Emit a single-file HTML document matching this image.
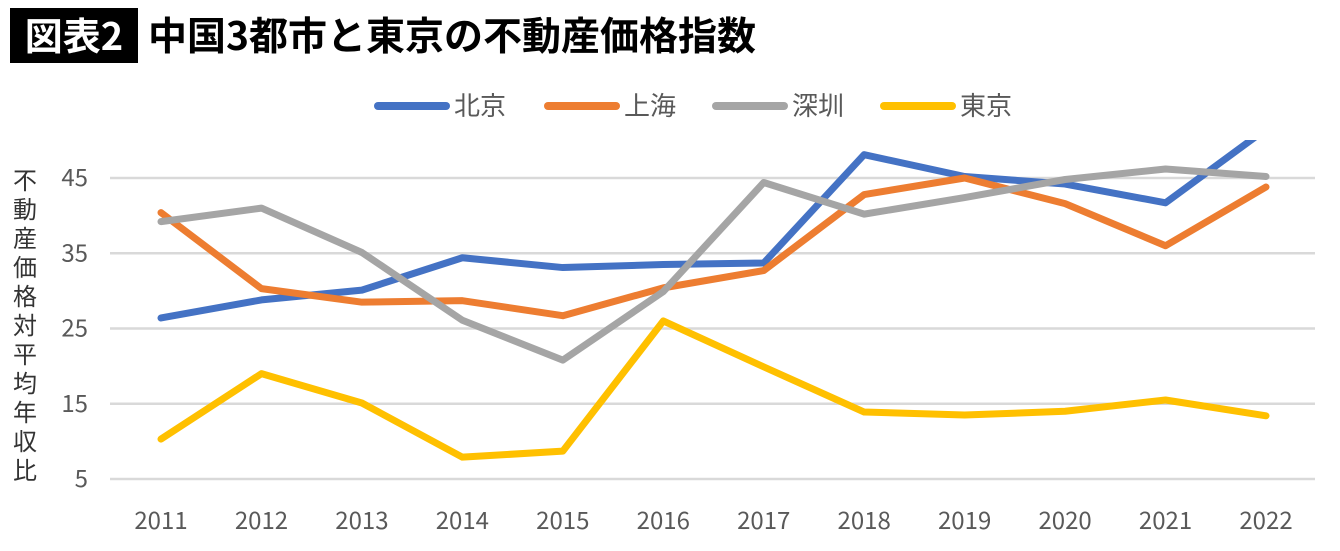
<!DOCTYPE html>
<html><head><meta charset="utf-8"><style>
body{margin:0;background:#fff;width:1340px;height:546px;overflow:hidden;font-family:"Liberation Sans","Noto Sans CJK JP",sans-serif}
</style></head><body>
<svg id="c" width="1340" height="546" xmlns="http://www.w3.org/2000/svg">
<rect x="10" y="8" width="128" height="55" fill="#000"/>
<text x="74" y="50" fill="#fff" font-size="38" font-weight="bold" text-anchor="middle" font-family="Noto Sans CJK JP,sans-serif">図表2</text>
<text x="148" y="50" fill="#000" font-size="39" font-weight="bold" font-family="Noto Sans CJK JP,sans-serif">中国3都市と東京の不動産価格指数</text>
<g id="legend"></g>
<g id="grid"></g>
<g id="lines"></g>
<g id="axes"></g>
<text font-size="24" fill="#333" font-family="Liberation Sans,Noto Sans CJK JP,sans-serif">
<tspan x="13" y="189">不</tspan><tspan x="13" y="218">動</tspan><tspan x="13" y="247">産</tspan><tspan x="13" y="276">価</tspan><tspan x="13" y="305">格</tspan><tspan x="13" y="334">対</tspan><tspan x="13" y="363">平</tspan><tspan x="13" y="392">均</tspan><tspan x="13" y="421">年</tspan><tspan x="13" y="450">収</tspan><tspan x="13" y="479">比</tspan>
</text>
<defs><clipPath id="plot"><rect x="100" y="140" width="1230" height="360"/></clipPath></defs>
</svg>
<script>
const years=["2011","2012","2013","2014","2015","2016","2017","2018","2019","2020","2021","2022"];
const yTicks=[5,15,25,35,45];
const seriesNames=["北京","上海","深圳","東京"];
const seriesColors=["#4472c4","#ed7d31","#a5a5a5","#ffc000"];
const beijing=[26.4,28.8,30.1,34.4,33.1,33.5,33.7,48.1,45.2,44.2,41.7,51.5];
const shanghai=[40.4,30.3,28.5,28.7,26.7,30.4,32.7,42.8,45.0,41.6,36.0,43.8];
const shenzhen=[39.2,41.0,35.1,26.1,20.8,29.9,44.4,40.2,42.4,44.8,46.2,45.2];
const tokyo=[10.3,19.0,15.1,7.9,8.7,26.0,19.9,13.9,13.5,14.0,15.5,13.4];
const allSeries=[beijing,shanghai,shenzhen,tokyo];
const NS="http://www.w3.org/2000/svg";
const X=i=>161+i*(1266-161)/(years.length-1);
const Y=v=>479-(v-5)*(479-178)/40;
function mk(tag,attrs,parent){const e=document.createElementNS(NS,tag);for(const k in attrs)e.setAttribute(k,attrs[k]);parent.appendChild(e);return e;}
const grid=document.getElementById('grid'),axes=document.getElementById('axes'),lines=document.getElementById('lines'),legend=document.getElementById('legend');
yTicks.forEach(t=>{
 const l=mk('line',{x1:110,x2:1315,y1:Y(t),y2:Y(t),stroke:'#d9d9d9','stroke-width':2.5},grid);
 
 
 const tx=mk('text',{x:88,y:Y(t)+8,'text-anchor':'end','font-size':24,fill:'#595959','font-family':'Noto Sans CJK JP,sans-serif'},axes);
 tx.textContent=t;
 
 
});
years.forEach((y,i)=>{
 const tx=mk('text',{x:X(i),y:529,'text-anchor':'middle','font-size':24,fill:'#595959','font-family':'Noto Sans CJK JP,sans-serif'},axes);
 tx.textContent=y;
 
 
});
allSeries.forEach((s,k)=>{
 const p=mk('polyline',{points:s.map((v,i)=>X(i)+','+Y(v)).join(' '),fill:'none',stroke:seriesColors[k],'stroke-width':7,'stroke-linejoin':'round','stroke-linecap':'round','clip-path':'url(#plot)'},lines);
 
 
});
const lx=[378,548,716,884];
seriesNames.forEach((n,k)=>{
 const l=mk('line',{x1:lx[k],x2:lx[k]+68,y1:106,y2:106,stroke:seriesColors[k],'stroke-width':8,'stroke-linecap':'round'},legend);
 
 
 const t=mk('text',{x:lx[k]+76,y:115,'font-size':26,fill:'#595959','font-family':'Noto Sans CJK JP,sans-serif'},legend);
 t.textContent=n;
 
 
});
</script>
</body></html>
